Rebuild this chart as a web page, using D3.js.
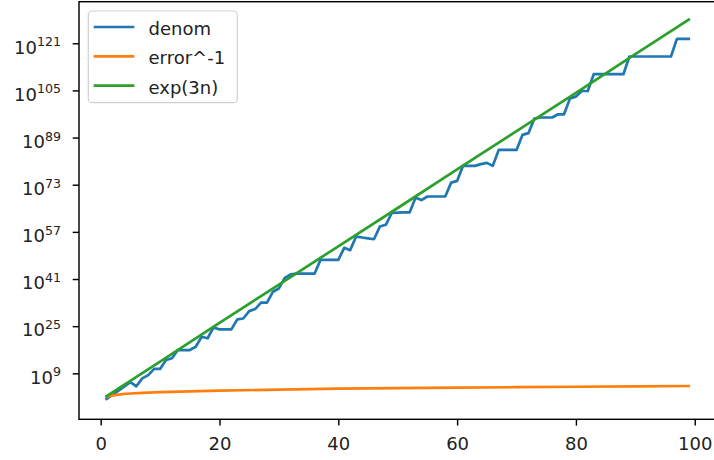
<!DOCTYPE html>
<html>
<head>
<meta charset="utf-8">
<script src="https://cdn.jsdelivr.net/npm/d3@7"></script>
<style>
  body { margin: 0; background: #fff; }
  svg { display: block; font-family: "DejaVu Sans", sans-serif; }
</style>
</head>
<body>
<div id="chart"></div>
<script>
// series labels
var seriesNames = ["denom", "error^-1", "exp(3n)"];
var seriesColors = ["#1f77b4", "#ff7f0e", "#2ca02c"];

// denom: log10 value at n = 1..99
var denomExp = [
    0.3, 1.7, 3.1, 4.6, 6.0, 4.6, 7.3, 8.4, 10.5, 10.5,
    13.5, 14.1, 16.9, 16.9, 16.9, 18.0, 21.4, 20.9, 24.6, 23.9,
    23.9, 23.9, 27.3, 27.6, 30.1, 30.8, 33.0, 33.0, 36.7, 37.8,
    41.4, 42.6, 42.8, 42.8, 42.8, 42.8, 47.5, 47.5, 47.5, 47.5,
    51.6, 50.8, 55.4, 55.1, 54.8, 54.5, 58.8, 59.4, 63.4, 63.5,
    63.6, 63.6, 68.6, 67.8, 69.0, 69.0, 69.0, 69.0, 73.7, 74.3,
    79.4, 79.4, 79.4, 80.0, 80.4, 79.4, 84.8, 84.8, 84.8, 84.8,
    89.9, 90.5, 95.4, 95.8, 95.8, 95.8, 96.9, 96.9, 102.3, 102.9,
    104.8, 104.8, 110.5, 110.5, 110.5, 110.5, 110.5, 110.5, 116.5, 116.5,
    116.5, 116.5, 116.5, 116.5, 116.5, 116.5, 122.5, 122.5, 122.5
];

// error^-1 : sampled points (n, log10 value)
var errorN = [1, 2, 3, 4, 5, 7, 10, 15, 20, 30, 40, 50, 60, 70, 80, 90, 99];
var errorExp = [1.0, 1.5, 1.8, 2.0, 2.15, 2.35, 2.6, 2.9, 3.1, 3.5, 3.8, 4.0, 4.15, 4.3, 4.45, 4.6, 4.7];

// exp(3n) : sampled points (n, log10 value)
var expN = [1, 10, 20, 30, 40, 50, 60, 70, 80, 90, 99];
var expExp = [1.3, 13.0, 26.1, 39.1, 52.1, 65.1, 78.2, 91.2, 104.2, 117.3, 129.0];

// ticks
var xTicks = [0, 20, 40, 60, 80, 100];
var yTickExps = [9, 25, 41, 57, 73, 89, 105, 121];

var width = 714, height = 460;
var margin = { left: 79, right: 717.9, top: 1.7, bottom: 419.3 };

var svg = d3.select("#chart")
    .append("svg")
    .attr("width", width)
    .attr("height", height);

var x = d3.scaleLinear()
    .domain([-3.65, 103.9])
    .range([margin.left, margin.right]);

var y = d3.scaleLog()
    .domain([Math.pow(10, -6.6), Math.pow(10, 135.1)])
    .range([margin.bottom, margin.top]);

// build line data
var denomData = denomExp.map(function (e, i) { return { n: i + 1, e: e }; });
var errorData = errorN.map(function (n, i) { return { n: n, e: errorExp[i] }; });
var expData = expN.map(function (n, i) { return { n: n, e: expExp[i] }; });
var allSeries = [denomData, errorData, expData];

var line = d3.line()
    .x(function (d) { return x(d.n); })
    .y(function (d) { return y(Math.pow(10, d.e)); });

svg.append("g")
    .selectAll("path")
    .data(allSeries)
    .enter()
    .append("path")
    .attr("d", line)
    .attr("fill", "none")
    .attr("stroke", function (d, i) { return seriesColors[i]; })
    .attr("stroke-width", 2.7)
    .attr("stroke-linejoin", "round")
    .attr("stroke-linecap", "square");

// x axis
var xAxis = svg.append("g")
    .attr("transform", "translate(0," + margin.bottom + ")")
    .call(d3.axisBottom(x).tickValues(xTicks).tickSize(6.3).tickPadding(6.3));
xAxis.select(".domain").remove();
xAxis.selectAll("line").attr("stroke", "#000").attr("stroke-width", 1.44);
xAxis.selectAll("text")
    .attr("dy", null)
    .attr("y", 30.6)
    .attr("fill", "#222")
    .style("font-size", "18px")
    .style("font-family", "DejaVu Sans");

// y axis (log, labels as 10^k)
var yAxis = svg.append("g")
    .attr("transform", "translate(" + margin.left + ",0)")
    .call(d3.axisLeft(y)
        .tickValues(yTickExps.map(function (e) { return Math.pow(10, e); }))
        .tickSize(6.3)
        .tickFormat(""));
yAxis.select(".domain").remove();
yAxis.selectAll("line").attr("stroke", "#000").attr("stroke-width", 1.44);

var yLabel = yAxis.selectAll(".tick")
    .append("text")
    .attr("x", -18)
    .attr("y", 9.8)
    .attr("text-anchor", "end")
    .attr("fill", "#222")
    .style("font-size", "18px")
    .style("font-family", "DejaVu Sans");
yLabel.append("tspan").text("10");
yLabel.append("tspan")
    .attr("dy", -7.3)
    .style("font-size", "12.6px")
    .text(function (d, i) { return yTickExps[i]; });

// spines
svg.append("rect")
    .attr("x", margin.left)
    .attr("y", margin.top)
    .attr("width", margin.right - margin.left)
    .attr("height", margin.bottom - margin.top)
    .attr("fill", "none")
    .attr("stroke", "#000")
    .attr("stroke-width", 1.44);

// legend
var legend = svg.append("g").attr("class", "legend");
legend.append("rect")
    .attr("x", 88.3)
    .attr("y", 11)
    .attr("width", 149)
    .attr("height", 91.7)
    .attr("rx", 4)
    .attr("fill", "#fff")
    .attr("fill-opacity", 0.8)
    .attr("stroke", "#d0d0d0")
    .attr("stroke-width", 1.2);

var item = legend.selectAll(".legend-item")
    .data(seriesNames)
    .enter()
    .append("g")
    .attr("class", "legend-item")
    .attr("transform", function (d, i) { return "translate(0," + (27 + i * 29.3) + ")"; });

item.append("line")
    .attr("x1", 95)
    .attr("x2", 133)
    .attr("stroke", function (d, i) { return seriesColors[i]; })
    .attr("stroke-width", 2.7)
    .attr("stroke-linecap", "square");

item.append("text")
    .attr("x", 148.5)
    .attr("y", 8)
    .attr("fill", "#222")
    .style("font-size", "18px")
    .text(function (d) { return d; });
</script>
</body>
</html>
